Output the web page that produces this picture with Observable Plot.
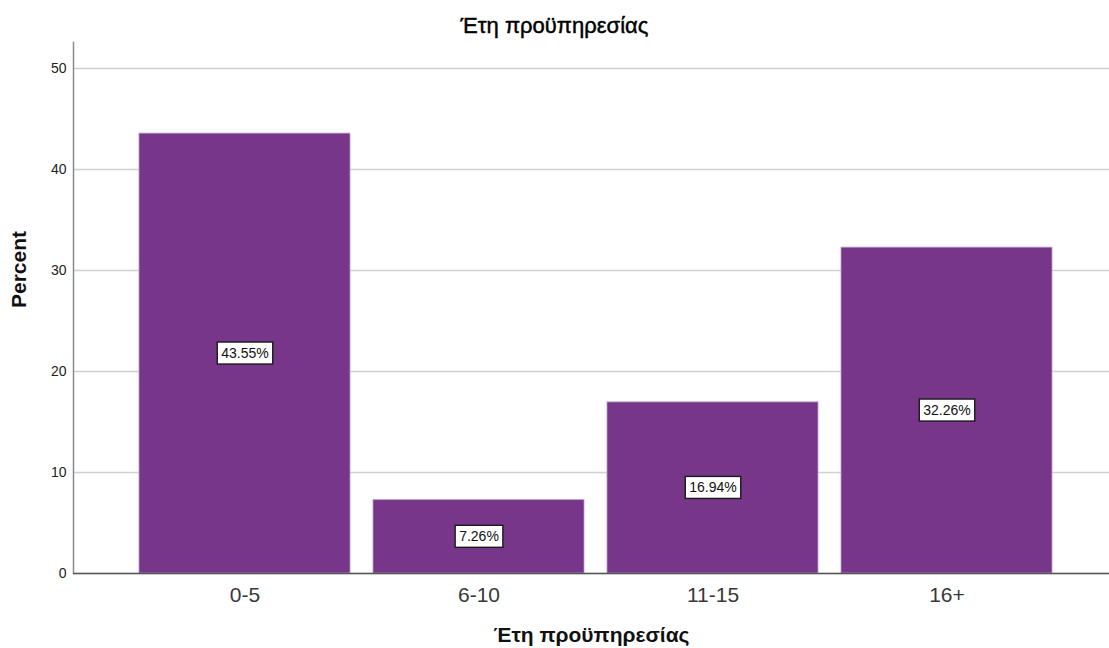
<!DOCTYPE html>
<html>
<head>
<meta charset="utf-8">
<script src="https://cdn.jsdelivr.net/npm/d3@7"></script>
<script src="https://cdn.jsdelivr.net/npm/@observablehq/plot@0.6"></script>
<style>
  body { margin: 0; background: #fff; font-family: "Liberation Sans", Arial, sans-serif; }
  #title { width: 1109px; height: 42px; line-height: 52px; text-align: center; font-size: 22px; color: #000; -webkit-text-stroke: 0.45px #000; }
  #chart svg { display: block; }
</style>
</head>
<body>
<div id="title">Έτη προϋπηρεσίας</div>
<div id="chart"></div>
<script>
// Years of service groups and their share of respondents (%)
const categories = ["0-5", "6-10", "11-15", "16+"];
const percents = [43.55, 7.26, 16.94, 32.26];
const yTicks = [0, 10, 20, 30, 40, 50];
const xTitle = "Έτη προϋπηρεσίας";
const yTitle = "Percent";

const data = categories.map((category, i) => ({category, percent: percents[i]}));

const chart = Plot.plot({
  width: 1109,
  height: 606,
  marginTop: 0,
  marginLeft: 73,
  marginRight: 0,
  marginBottom: 75,
  style: {fontFamily: "'Liberation Sans', Arial, sans-serif", background: "white", overflow: "visible"},
  x: {domain: categories, range: [125.8, 1065.5], paddingInner: 0.098, paddingOuter: 0.049, label: null},
  y: {domain: [0, 52.57], label: null},
  marks: [
    Plot.gridY(yTicks, {stroke: "#cfcfcf", strokeOpacity: 1, strokeWidth: 1.6}),
    Plot.barY(data, {x: "category", y: "percent", fill: "#77368a", stroke: "#b89cc4", strokeWidth: 0.8}),
    Plot.frame({anchor: "left", stroke: "#8a8a8a", strokeWidth: 1.5}),
    Plot.ruleY([0], {stroke: "#555", strokeWidth: 1.5}),
    Plot.axisY(yTicks, {tickSize: 0, tickPadding: 7, fontSize: 14, fill: "#222", label: null}),
    Plot.axisX({tickSize: 0, tickPadding: 14, fontSize: 21, fill: "#383838", label: null}),
    Plot.text(data, {
      x: "category",
      y: (d) => d.percent / 2,
      text: (d) => d.percent.toFixed(2) + "%",
      fontSize: 14,
      fill: "#111",
      className: "value-label"
    }),
    Plot.text([xTitle], {frameAnchor: "bottom", dy: 68, fontSize: 21, fontWeight: "bold", fill: "#111"}),
    Plot.text([yTitle], {frameAnchor: "left", rotate: -90, dx: -54, fontSize: 21, fontWeight: "bold", fill: "#111"})
  ]
});

document.getElementById("chart").appendChild(chart);

// Boxed value labels: put a white, outlined rectangle behind each label text
const ns = "http://www.w3.org/2000/svg";
chart.querySelectorAll("text").forEach((t) => {
  if (!/%$/.test(t.textContent)) return;
  const b = t.getBBox();
  const r = document.createElementNS(ns, "rect");
  r.setAttribute("x", b.x - 4);
  r.setAttribute("y", b.y - 3);
  r.setAttribute("width", b.width + 8);
  r.setAttribute("height", b.height + 6);
  r.setAttribute("fill", "white");
  r.setAttribute("stroke", "#1a1a1a");
  r.setAttribute("stroke-width", 1.4);
  if (t.getAttribute("transform")) r.setAttribute("transform", t.getAttribute("transform"));
  t.parentNode.insertBefore(r, t);
});
</script>
</body>
</html>
